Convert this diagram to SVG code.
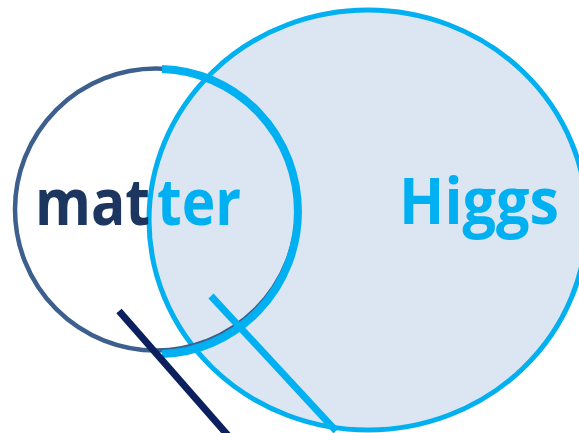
<svg xmlns="http://www.w3.org/2000/svg" width="579" height="433" viewBox="0 0 579 433">
  <style>
    .label { font-family: "Open Sans", "Liberation Sans", sans-serif; font-weight: 700; font-size: 64px; }
    .sky { fill: #00b0f0; }
    .ink { fill: #1c3660; }
  </style>
  <rect width="579" height="433" fill="#ffffff"/>

  <g id="higgs">
    <ellipse cx="368" cy="220" rx="219" ry="210" fill="#dce6f2" stroke="#00b0f0" stroke-width="5"/>
    <text class="label sky" x="399" y="224" textLength="160" lengthAdjust="spacingAndGlyphs">Higgs</text>
  </g>

  <g id="matter">
    <circle cx="156" cy="209.5" r="141" fill="none" stroke="#3c5f8e" stroke-width="4.5"/>
    <!-- highlighted right half of the ring -->
    <path d="M162,69.06 A140,142.5 0 0 1 162,353.94" fill="none" stroke="#00b0f0" stroke-width="8"/>
    <text class="label ink" x="35" y="225" textLength="115" lengthAdjust="spacingAndGlyphs">mat</text>
    <text class="label sky" x="157" y="225" textLength="84" lengthAdjust="spacingAndGlyphs">ter</text>
  </g>

  <g id="connectors" fill="none" stroke-width="7" stroke-linecap="butt">
    <line x1="119" y1="311" x2="232" y2="440" stroke="#0c1f5e"/>
    <line x1="211" y1="296" x2="336" y2="431" stroke="#00b0f0"/>
  </g>
</svg>
